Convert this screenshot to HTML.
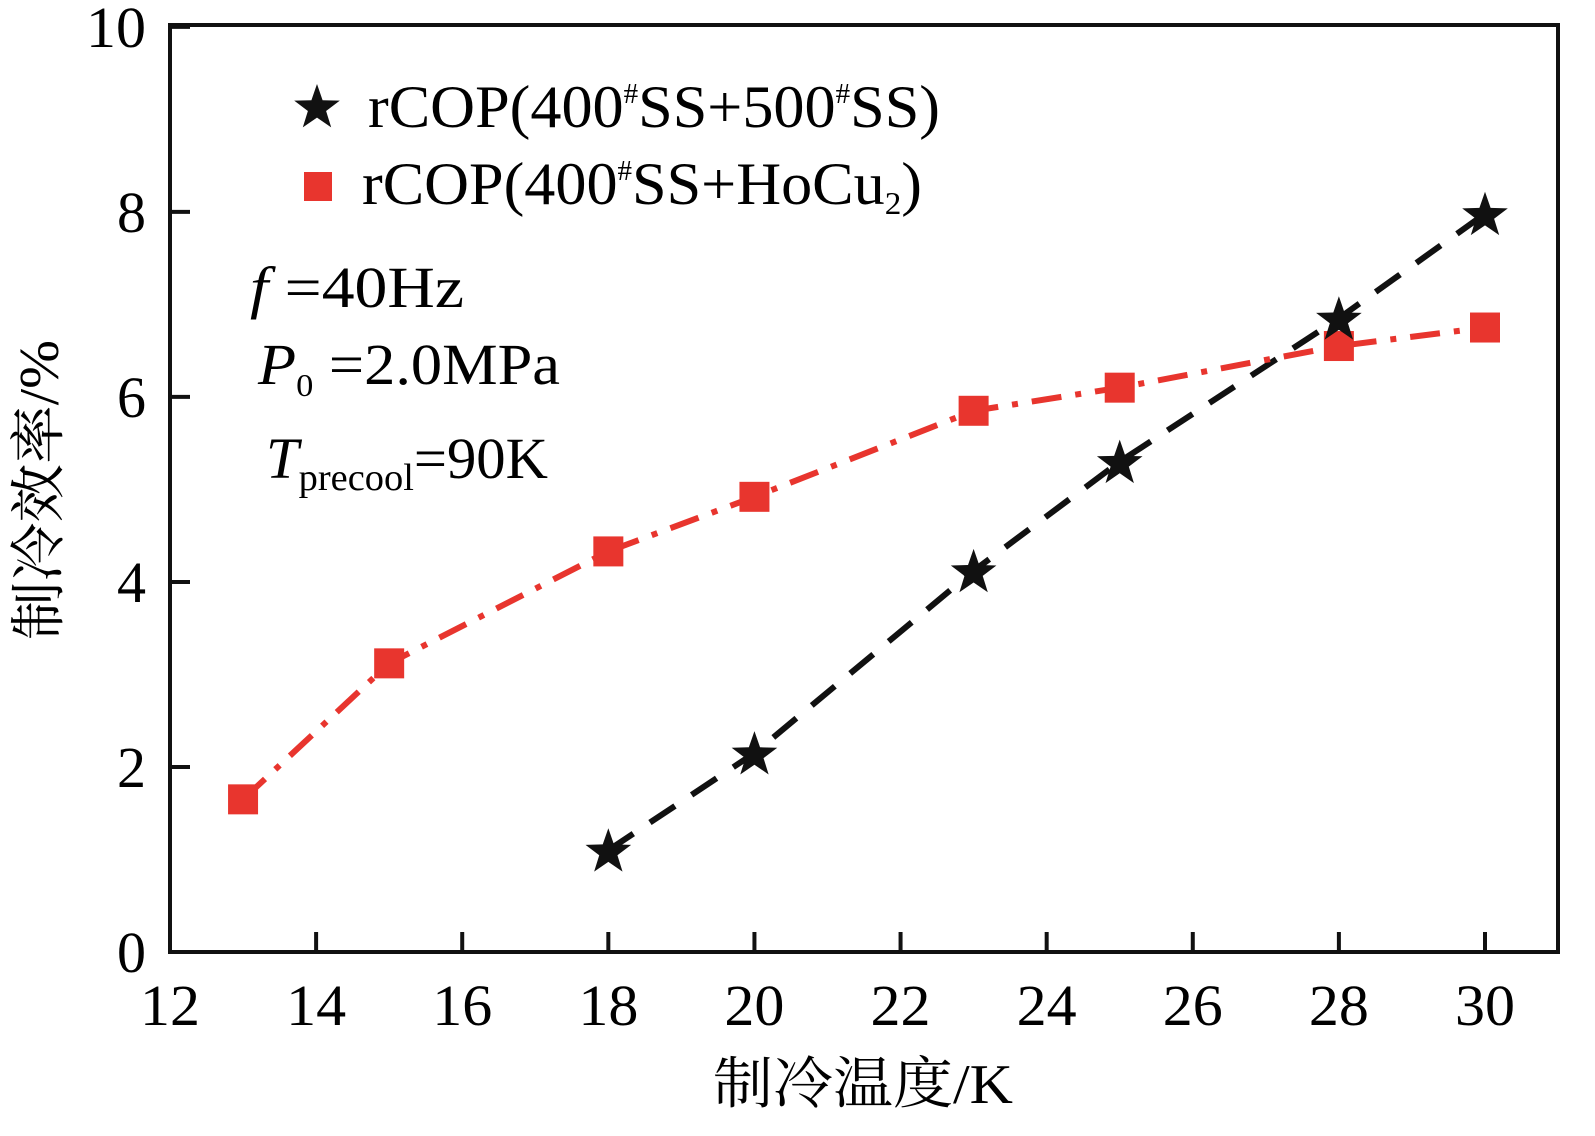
<!DOCTYPE html>
<html><head><meta charset="utf-8"><style>body{margin:0;background:#fff}svg{display:block}</style></head>
<body>
<svg id="chart" width="1595" height="1136" xmlns="http://www.w3.org/2000/svg" font-family="'Liberation Serif','Noto Serif CJK SC',serif">
<g id="axes"></g>
<g id="series"></g>
<g>
 <polygon points="0,-24 5.6,-7.8 22.8,-7.4 9.1,3 14.2,19.4 0,9.6 -14.2,19.4 -9.1,3 -22.8,-7.4 -5.6,-7.8" transform="translate(317,108)" fill="#111"/>
 <text x="368" y="127" font-size="60" textLength="572" lengthAdjust="spacingAndGlyphs">rCOP(400<tspan dy="-24" font-size="28">#</tspan><tspan dy="24">SS+500</tspan><tspan dy="-24" font-size="28">#</tspan><tspan dy="24">SS)</tspan></text>
 <rect x="304" y="172" width="28" height="29" fill="#e8352e"/>
 <text x="362" y="204" font-size="60" textLength="560" lengthAdjust="spacingAndGlyphs">rCOP(400<tspan dy="-24" font-size="28">#</tspan><tspan dy="24">SS+HoCu</tspan><tspan dy="10" font-size="32">2</tspan><tspan dy="-10">)</tspan></text>
</g>
<g font-size="58">
 <text x="250" y="307" textLength="214" lengthAdjust="spacingAndGlyphs"><tspan font-style="italic">f</tspan> =40Hz</text>
 <text x="258" y="384" textLength="302" lengthAdjust="spacingAndGlyphs"><tspan font-style="italic">P</tspan><tspan dy="12" font-size="32">0</tspan><tspan dy="-12"> =2.0MPa</tspan></text>
 <text x="266" y="478" textLength="282" lengthAdjust="spacingAndGlyphs"><tspan font-style="italic">T</tspan><tspan dy="12" font-size="38">precool</tspan><tspan dy="-12">=90K</tspan></text>
</g>
<text x="863" y="1103" font-size="56" text-anchor="middle" textLength="300" lengthAdjust="spacingAndGlyphs">制冷温度/K</text>
<text transform="translate(58,490) rotate(-90)" font-size="56" text-anchor="middle" textLength="300" lengthAdjust="spacingAndGlyphs">制冷效率/%</text>
<script>
const xTicks=[12,14,16,18,20,22,24,26,28,30];
const yTicks=[0,2,4,6,8,10];
const stainlessX=[18,20,23,25,28,30];
const stainlessY=[1.1,2.15,4.12,5.3,6.85,7.98];
const hocuX=[13,15,18,20,23,25,28,30];
const hocuY=[1.65,3.12,4.33,4.92,5.85,6.1,6.55,6.75];
const NS='http://www.w3.org/2000/svg';
const L=170,R=1558,T=25,B=952;
const STAR='0,-24 5.6,-7.8 22.8,-7.4 9.1,3 14.2,19.4 0,9.6 -14.2,19.4 -9.1,3 -22.8,-7.4 -5.6,-7.8';
function sx(v){return L+(v-12)*(1485-170)/18;}
function sy(v){return B-v*(B-T)/10.02;}
function mk(t,a,p){const e=document.createElementNS(NS,t);for(const k in a)e.setAttribute(k,a[k]);p.appendChild(e);return e;}
const ax=document.getElementById('axes');
const frame=mk('rect',{x:L,y:T,width:R-L,height:B-T,fill:'none',stroke:'#111','stroke-width':4},ax);


xTicks.forEach(v=>{
 const t=mk('line',{x1:sx(v),x2:sx(v),y1:B,y2:B-20,stroke:'#111','stroke-width':4},ax);
 
 
 const l=mk('text',{x:sx(v),y:B+73,'font-size':58,'text-anchor':'middle',textLength:60,lengthAdjust:'spacingAndGlyphs'},ax);l.textContent=v;
 
 
});
yTicks.forEach(v=>{
 const t=mk('line',{x1:L,x2:L+20,y1:sy(v),y2:sy(v),stroke:'#111','stroke-width':4},ax);
 
 
 const l=mk('text',{x:L-24,y:sy(v)+20,'font-size':58,'text-anchor':'end'},ax);l.textContent=v;
 if(v===10){l.setAttribute('textLength',60);l.setAttribute('lengthAdjust','spacingAndGlyphs');}
 
 
});
const sg=document.getElementById('series');
const p1=mk('polyline',{points:stainlessX.map((x,i)=>sx(x)+','+sy(stainlessY[i])).join(' '),fill:'none',stroke:'#111','stroke-width':6,'stroke-dasharray':'30 20'},sg);


const p2=mk('polyline',{points:hocuX.map((x,i)=>sx(x)+','+sy(hocuY[i])).join(' '),fill:'none',stroke:'#e8352e','stroke-width':6,'stroke-dasharray':'30 14 6 14'},sg);


hocuX.forEach((x,i)=>{
 const r=mk('rect',{x:sx(x)-15,y:sy(hocuY[i])-15,width:30,height:30,fill:'#e8352e'},sg);
 
 
});
stainlessX.forEach((x,i)=>{
 const s=mk('polygon',{points:STAR,transform:'translate('+sx(x)+','+(sy(stainlessY[i])+2)+')',fill:'#111'},sg);
 
 
});
</script>
</svg>
</body></html>
